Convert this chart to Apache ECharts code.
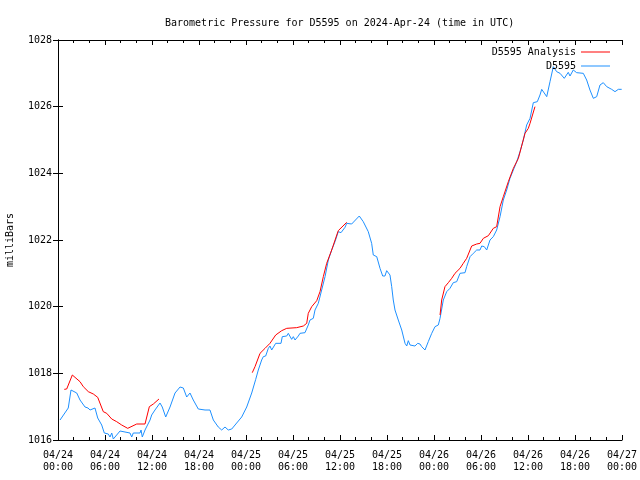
<!DOCTYPE html>
<html>
<head>
<meta charset="utf-8">
<script src="https://cdn.jsdelivr.net/npm/echarts@6/dist/echarts.min.js"></script>
<style>html,body{margin:0;padding:0;background:#fff}#c{width:640px;height:480px}</style>
</head>
<body>
<div id="c"></div>
<script>
// hours since 2024-04-24 00:00 UTC
const blueHours = [0.26,1.31,1.66,2.39,2.81,3.03,3.45,3.83,4.09,4.30,4.72,5.07,5.58,5.91,6.42,6.64,6.86,7.06,7.28,7.92,8.13,9.19,9.41,9.61,10.47,10.60,10.76,11.11,11.75,11.96,12.38,12.60,13.02,13.31,13.75,14.30,14.94,15.58,16.00,16.43,16.85,17.27,17.91,18.77,18.98,19.40,19.83,20.46,20.90,21.32,21.74,22.18,22.81,23.45,24.09,24.73,25.24,25.57,26.00,26.21,26.51,26.85,27.06,27.28,27.49,27.79,28.47,28.63,29.20,29.40,29.83,30.04,30.26,30.68,30.89,31.53,31.95,32.17,32.59,32.81,33.23,33.66,34.09,34.51,34.94,35.36,35.78,36.13,36.64,36.86,37.49,37.70,38.46,38.97,39.61,40.04,40.25,40.69,41.11,41.45,41.74,41.96,42.38,42.60,42.80,43.02,43.44,43.88,44.30,44.52,44.72,44.94,45.15,45.57,45.92,46.21,46.43,46.85,47.27,47.71,48.13,48.55,48.77,49.19,49.62,50.04,50.46,50.90,51.32,51.96,52.17,52.60,53.02,53.45,53.87,54.09,54.42,54.73,55.15,55.57,56.00,56.43,56.85,57.28,57.70,58.13,58.56,58.98,59.40,59.83,60.26,60.47,60.68,61.19,61.53,61.75,61.96,62.39,62.81,63.23,63.66,64.09,64.63,65.14,65.36,65.78,66.21,67.06,67.49,67.91,68.34,68.77,69.19,69.61,70.05,70.25,70.68,71.11,71.53,71.96];
const bluePressure = [1016.60,1016.96,1017.50,1017.41,1017.20,1017.26,1016.99,1016.96,1016.90,1016.96,1016.96,1016.66,1016.45,1016.21,1016.18,1016.09,1016.21,1016.03,1016.09,1016.27,1016.21,1016.21,1016.09,1016.21,1016.21,1016.30,1016.09,1016.30,1016.60,1016.75,1016.90,1016.96,1017.11,1016.99,1016.69,1016.99,1017.41,1017.59,1017.56,1017.29,1017.41,1017.20,1016.93,1016.90,1016.96,1016.90,1016.60,1016.39,1016.30,1016.39,1016.30,1016.33,1016.51,1016.69,1016.99,1017.41,1017.82,1018.10,1018.40,1018.50,1018.52,1018.75,1018.82,1018.70,1018.70,1018.90,1018.90,1019.10,1019.12,1019.20,1019.02,1019.10,1019.00,1019.12,1019.20,1019.22,1019.45,1019.60,1019.65,1019.90,1020.10,1020.50,1020.90,1021.40,1021.70,1021.95,1022.25,1022.22,1022.38,1022.50,1022.48,1022.42,1022.72,1022.55,1022.25,1021.90,1021.55,1021.50,1021.15,1020.92,1020.92,1021.08,1020.95,1020.60,1020.20,1019.90,1019.60,1019.30,1018.90,1018.82,1018.98,1018.85,1018.90,1018.82,1018.90,1018.88,1018.80,1018.70,1018.95,1019.20,1019.40,1019.45,1019.65,1020.20,1020.45,1020.55,1020.72,1020.75,1021.00,1021.02,1021.20,1021.50,1021.60,1021.70,1021.70,1021.82,1021.80,1021.70,1022.00,1022.10,1022.30,1022.70,1023.20,1023.50,1023.85,1024.10,1024.35,1024.65,1025.00,1025.45,1025.65,1025.70,1026.12,1026.15,1026.35,1026.52,1026.50,1026.30,1026.75,1027.20,1027.05,1027.00,1026.85,1027.03,1026.92,1027.10,1027.02,1027.00,1026.80,1026.50,1026.25,1026.30,1026.65,1026.72,1026.60,1026.60,1026.52,1026.45,1026.52,1026.52];
// analysis: null marks a gap between segments
const redHours = [0.80,1.11,1.83,2.17,2.81,3.23,3.87,4.51,5.07,5.78,6.22,6.86,7.49,8.13,8.90,10.05,11.11,11.66,12.17,12.89,18.0,24.80,25.15,25.79,26.43,27.06,27.79,28.56,29.20,30.47,31.32,31.75,31.95,32.39,33.03,33.45,33.87,34.30,34.94,35.78,36.64,36.86,42.0,48.77,48.98,49.40,49.83,50.26,50.68,51.32,51.74,52.17,52.81,53.45,53.87,54.30,54.94,55.15,55.57,56.00,56.43,56.85,57.49,58.13,58.77,59.62,60.04,60.26,60.89];
const redPressure = [1017.52,1017.53,1017.95,1017.88,1017.75,1017.60,1017.45,1017.38,1017.28,1016.85,1016.80,1016.63,1016.55,1016.45,1016.35,1016.48,1016.48,1017.00,1017.08,1017.23,null,1018.02,1018.20,1018.60,1018.75,1018.90,1019.15,1019.28,1019.35,1019.37,1019.42,1019.50,1019.80,1020.00,1020.18,1020.45,1020.90,1021.30,1021.70,1022.28,1022.48,1022.53,null,1019.75,1020.20,1020.60,1020.72,1020.85,1021.00,1021.15,1021.30,1021.45,1021.82,1021.88,1021.90,1022.05,1022.13,1022.10,1022.35,1022.40,1023.00,1023.30,1023.75,1024.15,1024.45,1025.20,1025.35,1025.50,1026.00];
const xTickLabels = ['04/24\n00:00','04/24\n06:00','04/24\n12:00','04/24\n18:00','04/25\n00:00','04/25\n06:00','04/25\n12:00','04/25\n18:00','04/26\n00:00','04/26\n06:00','04/26\n12:00','04/26\n18:00','04/27\n00:00'];
const yTicks = [1016,1018,1020,1022,1024,1026,1028];
const seriesNames = ['D5595 Analysis','D5595'];
const titleText = 'Barometric Pressure for D5595 on 2024-Apr-24 (time in UTC)';

const FONT = 'DejaVu Sans Mono';
const blueData = blueHours.map((h,i)=>[h,bluePressure[i]]);
const redData = redHours.map((h,i)=>[h, redPressure[i]===null ? '-' : redPressure[i]]);

const chart = echarts.init(document.getElementById('c'), null, {renderer:'canvas'});
const xCommon = {type:'value', min:0, max:72, interval:6, splitLine:{show:false},
  axisLine:{show:true, lineStyle:{color:'#000', width:1}},
  axisTick:{show:true, inside:true, length:5, lineStyle:{color:'#000'}},
  minorTick:{show:true, splitNumber:3, length:3, lineStyle:{color:'#000'}}};
const yCommon = {type:'value', min:yTicks[0], max:yTicks[yTicks.length-1], interval:2, splitLine:{show:false},
  axisLine:{show:true, lineStyle:{color:'#000', width:1}},
  axisTick:{show:true, inside:true, length:5, lineStyle:{color:'#000'}}};
chart.setOption({
  animation:false,
  backgroundColor:'#fff',
  title:{text:titleText, left:160, top:13, textStyle:{fontFamily:FONT, fontSize:10, fontWeight:'normal', color:'#000'}},
  legend:[
    {data:[seriesNames[0]], right:25, top:42, orient:'vertical', align:'right', icon:'rect', itemWidth:29, itemHeight:1,
     textStyle:{fontFamily:FONT, fontSize:10, color:'#000'}},
    {data:[seriesNames[1]], right:25, top:56, orient:'vertical', align:'right', icon:'rect', itemWidth:29, itemHeight:1,
     textStyle:{fontFamily:FONT, fontSize:10, color:'#000'}}
  ],
  grid:{left:58, right:18, top:40, bottom:40, containLabel:false, outerBoundsMode:'none'},
  xAxis:[
    Object.assign({}, xCommon, {position:'bottom',
      axisLabel:{margin:9, fontFamily:FONT, fontSize:10, color:'#000', lineHeight:12,
        formatter:(v)=>xTickLabels[Math.round(v/6)]}}),
    Object.assign({}, xCommon, {position:'top', axisLabel:{show:false}})
  ],
  yAxis:[
    Object.assign({}, yCommon, {position:'left', name:'milliBars', nameLocation:'middle', nameGap:43,
      nameTextStyle:{fontFamily:FONT, fontSize:10, color:'#000'},
      axisLabel:{margin:6, fontFamily:FONT, fontSize:10, color:'#000',
        formatter:(v)=>String(yTicks[Math.round((v-yTicks[0])/2)])}}),
    Object.assign({}, yCommon, {position:'right', axisLabel:{show:false}})
  ],
  series:[
    {name:seriesNames[1], type:'line', data:blueData, showSymbol:false, symbol:'none',
     lineStyle:{color:'#1e90ff', width:1}, itemStyle:{color:'#1e90ff'}, z:2},
    {name:seriesNames[0], type:'line', data:redData, showSymbol:false, symbol:'none', connectNulls:false,
     lineStyle:{color:'#ff0000', width:1}, itemStyle:{color:'#ff0000'}, z:3}
  ]
});
</script>
</body>
</html>
